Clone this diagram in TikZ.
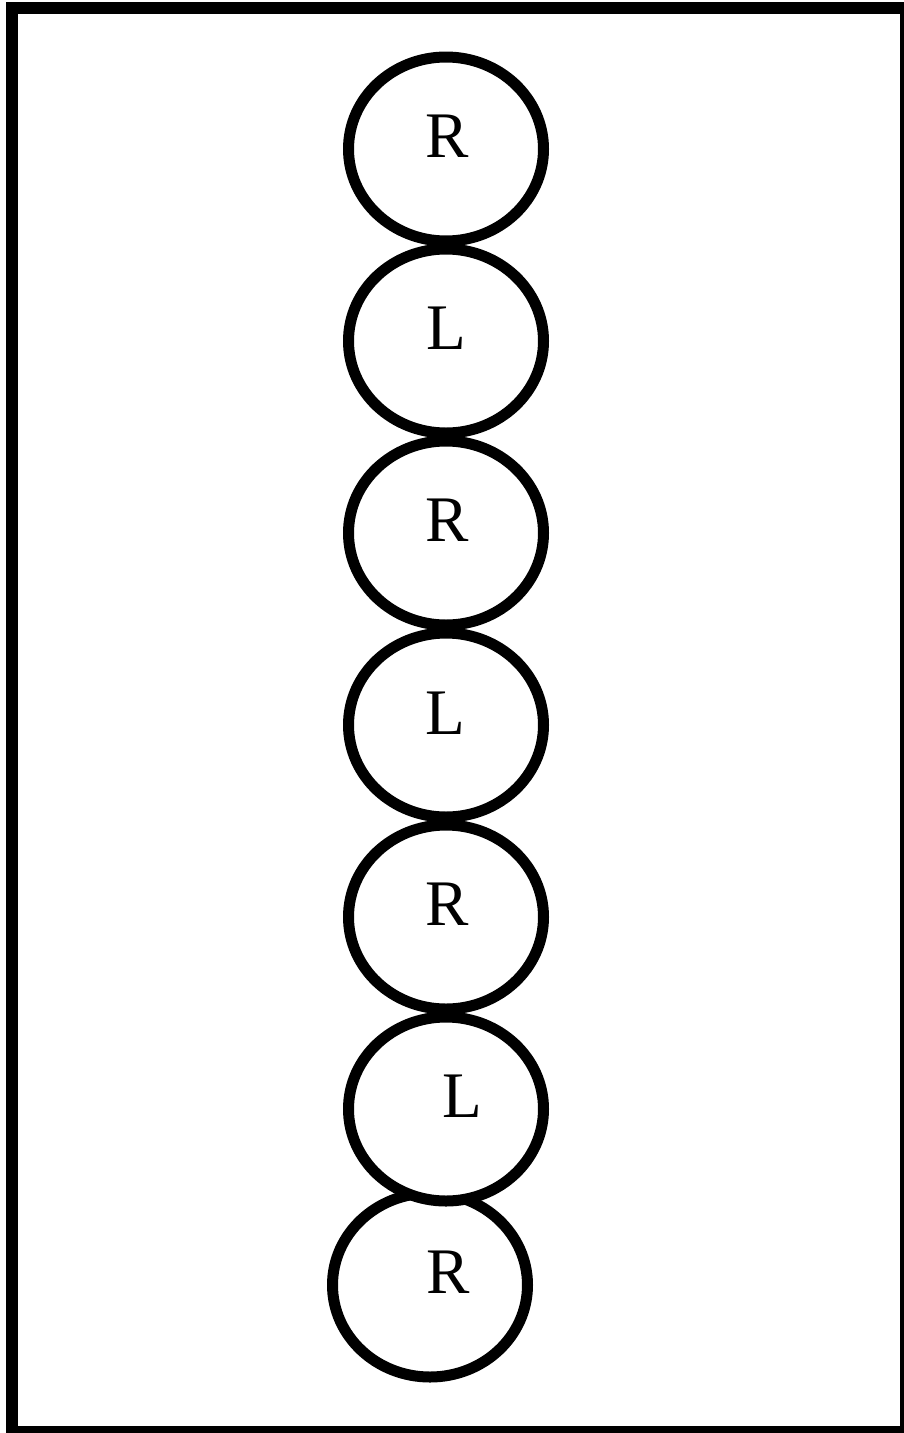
\documentclass[tikz,border=0pt]{standalone}
\usepackage{fontspec}
\setmainfont{Liberation Serif}
\usepackage{tikz}
\usetikzlibrary{shapes.geometric, positioning}

\begin{document}
\begin{tikzpicture}[
  x=1pt, y=-1pt,
  frame/.style={draw, line width=12pt},
  ring/.style={draw, ellipse, line width=11pt, fill=white, inner sep=0pt,
               minimum width=195pt, minimum height=184pt},
  lbl/.style={anchor=base, inner sep=0pt, font=\fontsize{65pt}{78pt}\selectfont}
]
\useasboundingbox (0,0) rectangle (903,1433);
\draw[frame] (12,8) rectangle (906,1432);
% bottom ring lies under the one above it
\node[ring] (c7) at (430,1285) {};
\node[ring] (c1) at (446,149) {};
\node[ring, below=-3pt of c1] (c2) {};
\node[ring, below=-3pt of c2] (c3) {};
\node[ring, below=-3pt of c3] (c4) {};
\node[ring, below=-3pt of c4] (c5) {};
\node[ring, below=-3pt of c5] (c6) {};
\node[lbl] (t1) at (447,157) {R};
\node[lbl] (t2) at (446,349) {L};
\node[lbl] (t3) at (447,541) {R};
\node[lbl] (t4) at (445,734) {L};
\node[lbl] (t5) at (447,925) {R};
\node[lbl] (t6) at (462,1117) {L};
\node[lbl] (t7) at (448,1293) {R};
\end{tikzpicture}
\end{document}
